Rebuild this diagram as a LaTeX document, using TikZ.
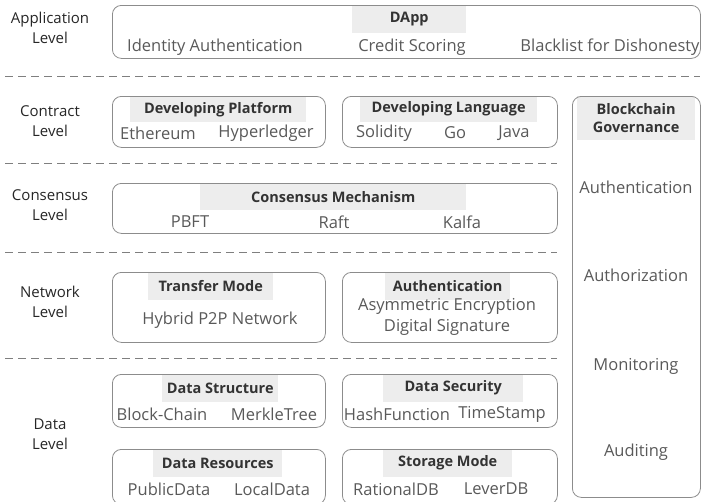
\documentclass[tikz,border=0pt]{standalone}
\usepackage{fontspec}
\setmainfont{Open Sans}
\definecolor{boxgray}{HTML}{8C8C8C}
\definecolor{hlgray}{HTML}{EDEDED}
\definecolor{titlecol}{HTML}{333333}
\definecolor{lvlcol}{HTML}{262626}
\definecolor{itemcol}{HTML}{595959}
\definecolor{sepcol}{HTML}{7F7F7F}
\begin{document}
\begin{tikzpicture}[x=1pt,y=-1pt,
  box/.style={draw=boxgray, rounded corners=9pt, line width=0.8pt, anchor=north west, inner sep=0pt},
  hl/.style={fill=hlgray, anchor=north west, inner sep=0pt, font=\fontsize{14.5}{18.5}\selectfont\bfseries, text=titlecol, align=center},
  item/.style={font=\fontsize{16.5}{19}\selectfont, text=itemcol, inner sep=0pt},
  lvl/.style={font=\fontsize{15}{20}\selectfont, text=lvlcol, align=center, inner sep=0pt},
  sep/.style={draw=sepcol, line width=0.8pt, dash pattern=on 8pt off 5pt}]
\useasboundingbox (0,0) rectangle (706,501);
% highlights
\node[hl, minimum width=114, minimum height=28] (dapp) at (352,5) {DApp};
\node[hl, minimum width=176, minimum height=26] (dplat) at (130,96) {Developing Platform};
\node[hl, minimum width=177, minimum height=26] (dlang) at (360,96) {Developing Language};
\node[hl, minimum width=118, minimum height=44] (gov) at (577,96) {Blockchain\\Governance};
\node[hl, minimum width=266, minimum height=27] (cons) at (200,183) {Consensus Mechanism};
\node[hl, minimum width=125, minimum height=28] (trans) at (148,272) {Transfer Mode};
\node[hl, minimum width=125, minimum height=28] (auth) at (385,272) {Authentication};
\node[hl, minimum width=116, minimum height=28] (dstruct) at (162,374) {Data Structure};
\node[hl, minimum width=140, minimum height=28] (dsec) at (383,374) {Data Security};
\node[hl, minimum width=129, minimum height=28] (dres) at (153,449) {Data Resources};
\node[hl, minimum width=129, minimum height=28] (store) at (383,449) {Storage Mode};
% boxes
\node[box, minimum width=588, minimum height=53] (appbox) at (112,5) {};
\node[box, minimum width=213, minimum height=51] (platbox) at (112,96) {};
\node[box, minimum width=215, minimum height=51] (langbox) at (342,96) {};
\node[box, minimum width=128, minimum height=401] (govbox) at (572,96) {};
\node[box, minimum width=445, minimum height=50] (consbox) at (112,183) {};
\node[box, minimum width=213, minimum height=70] (transbox) at (112,272) {};
\node[box, minimum width=215, minimum height=70] (authbox) at (342,272) {};
\node[box, minimum width=213, minimum height=53] (structbox) at (112,374) {};
\node[box, minimum width=215, minimum height=53] (secbox) at (342,374) {};
\node[box, minimum width=213, minimum height=55] (resbox) at (112,449) {};
\node[box, minimum width=215, minimum height=55] (storebox) at (342,449) {};
% separators
\draw[sep] (5,76) -- (700,76);
\draw[sep] (5,163) -- (557,163);
\draw[sep] (5,252) -- (557,252);
\draw[sep] (5,358) -- (557,358);
% level labels
\node[lvl] (lapp) at (50,28) {Application\\Level};
\node[lvl] (lcon) at (50,121) {Contract\\Level};
\node[lvl] (lcons) at (50,205) {Consensus\\Level};
\node[lvl] (lnet) at (50,302) {Network\\Level};
\node[lvl] (ldata) at (50,434) {Data\\Level};
% items
\node[item] (i1) at (215,47) {Identity Authentication};
\node[item] (i2) at (412,47) {Credit Scoring};
\node[item] (i3) at (610,47) {Blacklist for Dishonesty};
\node[item] (i4) at (158,133) {Ethereum};
\node[item] (i5) at (266,133) {Hyperledger};
\node[item] (i6) at (384,133) {Solidity};
\node[item] (i7) at (455,133) {Go};
\node[item] (i8) at (514,133) {Java};
\node[item] (i9) at (190,222) {PBFT};
\node[item] (i10) at (334,222) {Raft};
\node[item] (i11) at (462,222) {Kalfa};
\node[item] (i12) at (220,320) {Hybrid P2P Network};
\node[item] (i13) at (447,306) {Asymmetric Encryption};
\node[item] (i14) at (447,327) {Digital Signature};
\node[item] (i15) at (162,414) {Block-Chain};
\node[item] (i16) at (274,414) {MerkleTree};
\node[item] (i17) at (397,414) {HashFunction};
\node[item] (i18) at (502,414) {TimeStamp};
\node[item] (i19) at (169,489) {PublicData};
\node[item] (i20) at (272,489) {LocalData};
\node[item] (i21) at (396,489) {RationalDB};
\node[item] (i22) at (496,489) {LeverDB};
\node[item] (g1) at (636,187) {Authentication};
\node[item] (g2) at (636,275) {Authorization};
\node[item] (g3) at (636,366) {Monitoring};
\node[item] (g4) at (636,452) {Auditing};
\end{tikzpicture}
\end{document}
